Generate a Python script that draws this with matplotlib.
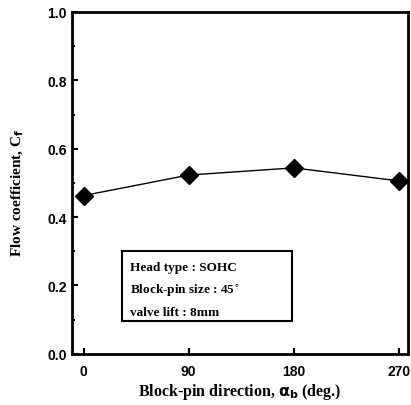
import matplotlib
matplotlib.use("Agg")
import matplotlib.pyplot as plt
from matplotlib.patches import Rectangle
from matplotlib.ticker import MultipleLocator

# Data
direction = [0, 90, 180, 270]  # block-pin direction (deg.)
flow_coef = [0.463, 0.523, 0.544, 0.506]  # flow coefficient
x_ticks = [0, 90, 180, 270]
y_ticks = [0.0, 0.2, 0.4, 0.6, 0.8, 1.0]
note_lines = ["Head type : SOHC", "Block-pin size : 45$^{\\circ}$", "valve lift : 8mm"]

fig = plt.figure(figsize=(4.11, 4.06), dpi=100)
ax = fig.add_axes([0.175, 0.126, 0.818, 0.842])

ax.plot(direction, flow_coef, color="black", lw=1.0, marker="D", ms=9,
        markerfacecolor="black", markeredgecolor="black")

ax.set_xlim(-10, 278)
ax.set_ylim(0.0, 1.0)
ax.set_xticks(x_ticks)
ax.set_yticks(y_ticks)
ax.set_yticklabels(["%.1f" % v for v in y_ticks])
ax.yaxis.set_minor_locator(MultipleLocator(0.1))
ax.tick_params(direction="in", which="both", width=1.5, length=4,
               labelsize=10)
ax.tick_params(axis="x", pad=7)
ax.tick_params(which="minor", length=2.5)
for lbl in ax.get_xticklabels() + ax.get_yticklabels():
    lbl.set_fontweight("bold")
    lbl.set_family("Liberation Sans")
for s in ax.spines.values():
    s.set_linewidth(2.0)

ax.set_xlabel("Block-pin direction, $\\mathbf{\\alpha_b}$ (deg.)",
              family="Liberation Serif", fontweight="bold", fontsize=11.5,
              va="center")
ax.xaxis.set_label_coords(0.5, -0.108)
ax.set_ylabel("Flow coefficient, C$_\\mathbf{f}$",
              family="Liberation Serif", fontweight="bold", fontsize=11,
              va="center")
ax.yaxis.set_label_coords(-0.16, 0.474)

# legend-like note box
ax.add_patch(Rectangle((0.149, 0.096), 0.506, 0.205, transform=ax.transAxes,
                       facecolor="white", edgecolor="black", lw=1.5, zorder=3))
for y, line in zip([0.254, 0.187, 0.123], note_lines):
    ax.text(0.173, y, line, transform=ax.transAxes, family="Liberation Serif",
            fontweight="bold", fontsize=9.5, va="center", ha="left", zorder=4)

fig.savefig("out.png", dpi=100)
